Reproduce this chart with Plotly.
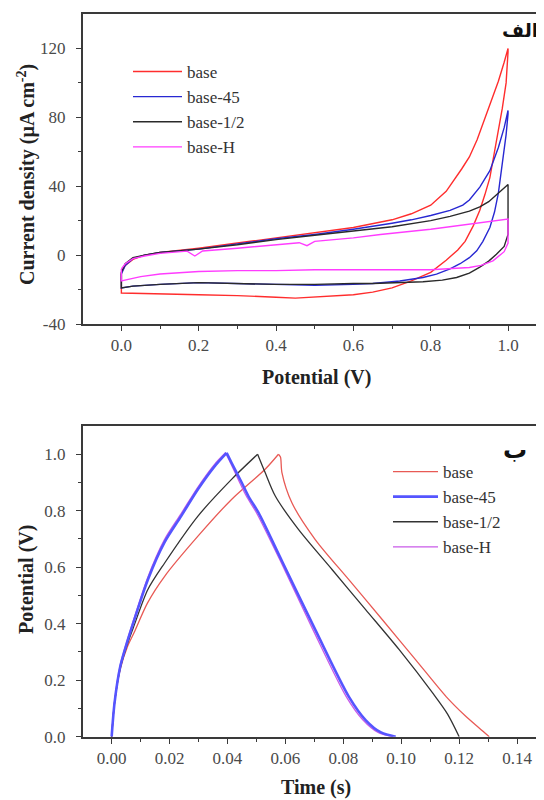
import plotly.graph_objects as go

# ---------------- Panel (الف): cyclic voltammetry ----------------
cv_names = ["base", "base-45", "base-1/2", "base-H"]

red_v_fwd = [0.0, 0.01, 0.03, 0.06, 0.1, 0.2, 0.3, 0.4, 0.5, 0.6, 0.7, 0.75, 0.8, 0.84, 0.88, 0.9, 0.92, 0.95, 0.975, 0.99, 1.0]
red_j_fwd = [-10, -6, -2.5, 0, 1.5, 4, 7, 10, 13, 16, 20.5, 24, 29, 37, 50, 57, 67, 85, 101, 112, 120]
red_v_rev = [1.0, 0.995, 0.985, 0.975, 0.965, 0.953, 0.94, 0.927, 0.91, 0.889, 0.87, 0.84, 0.8, 0.75, 0.7, 0.65, 0.6, 0.5, 0.45, 0.4, 0.3, 0.2, 0.1, 0.03, 0.0, 0.0]
red_j_rev = [118, 100, 85, 72, 60, 45, 35, 26, 17, 8, 3, -3, -10, -15, -19, -21.5, -23, -24.5, -25, -24.5, -23.5, -23, -22.5, -22.5, -22, -10]

blue_v_fwd = [0.0, 0.01, 0.03, 0.06, 0.1, 0.2, 0.3, 0.4, 0.5, 0.6, 0.7, 0.75, 0.8, 0.85, 0.883, 0.9, 0.927, 0.953, 0.975, 0.99, 1.0]
blue_j_fwd = [-11, -6, -2, 0, 1.5, 3.5, 6.5, 9.5, 12, 15, 18.5, 20.5, 23, 26, 29, 32, 39.5, 49, 62.5, 74, 84]
blue_v_rev = [1.0, 0.995, 0.987, 0.975, 0.965, 0.953, 0.935, 0.919, 0.9, 0.876, 0.85, 0.815, 0.78, 0.72, 0.65, 0.6, 0.5, 0.4, 0.3, 0.2, 0.1, 0.03, 0.0, 0.0]
blue_j_rev = [82, 70, 55, 36, 25, 16, 8, 2.5, -1.5, -5, -8, -11, -13, -15, -16.5, -17, -17.5, -17, -16.5, -16, -17, -18, -19, -11]

black_v_fwd = [0.0, 0.01, 0.03, 0.06, 0.1, 0.2, 0.3, 0.4, 0.5, 0.6, 0.7, 0.8, 0.85, 0.9, 0.927, 0.95, 0.975, 0.99, 1.0]
black_j_fwd = [-10, -5, -1.5, 0, 1.5, 3.5, 6, 9, 11.5, 14, 16.5, 20, 22.5, 25.5, 28, 31, 36, 39, 41]
black_v_rev = [1.0, 1.0, 0.99, 0.97, 0.95, 0.927, 0.9, 0.867, 0.83, 0.78, 0.72, 0.65, 0.6, 0.5, 0.4, 0.3, 0.2, 0.1, 0.03, 0.0, 0.0]
black_j_rev = [41, 12, 5, 0.5, -3.5, -7, -10.5, -13, -14.5, -15.5, -16, -16.5, -16.5, -17, -17, -16.5, -16, -17, -18, -19, -10]

mag_v_fwd = [0.0, 0.01, 0.03, 0.06, 0.1, 0.17, 0.19, 0.21, 0.3, 0.4, 0.46, 0.48, 0.5, 0.6, 0.67, 0.8, 0.9, 0.95, 1.0]
mag_j_fwd = [-8, -5, -2, -0.5, 1, 2.3, -0.5, 2.4, 4, 6, 7.2, 5.5, 8, 10, 12, 15, 18, 19.5, 21]
mag_v_rev = [1.0, 1.0, 0.99, 0.961, 0.93, 0.9, 0.85, 0.8, 0.7, 0.6, 0.5, 0.4, 0.3, 0.2, 0.1, 0.05, 0.02, 0.0, 0.0]
mag_j_rev = [21, 7, 2, -3.3, -6, -7.2, -8, -8.5, -8.5, -8.5, -8.5, -9, -9, -9.5, -11, -12.5, -14, -15, -8]

cv_x_tickvals = [0.0, 0.2, 0.4, 0.6, 0.8, 1.0]
cv_x_ticktext = ["0.0", "0.2", "0.4", "0.6", "0.8", "1.0"]
cv_y_tickvals = [-40, 0, 40, 80, 120]
cv_y_ticktext = ["-40", "0", "40", "80", "120"]

# ---------------- Panel (ب): charge / discharge ----------------
gcd_names = ["base", "base-45", "base-1/2", "base-H"]

red_t = [0, 0.001, 0.003, 0.0055, 0.0078, 0.0124, 0.0183, 0.0298, 0.0414, 0.053, 0.0576, 0.0583, 0.0588, 0.0622, 0.0703, 0.0819, 0.0935, 0.105, 0.1155, 0.122, 0.127, 0.1304]
red_p = [0, 0.12, 0.24, 0.32, 0.37, 0.474, 0.568, 0.71, 0.84, 0.947, 1.0, 0.99, 0.935, 0.829, 0.698, 0.556, 0.414, 0.272, 0.142, 0.075, 0.03, 0]

blue_t = [0, 0.001, 0.003, 0.0055, 0.0067, 0.0125, 0.0182, 0.024, 0.0298, 0.0356, 0.0397, 0.0414, 0.0449, 0.0472, 0.0507, 0.0588, 0.0703, 0.0819, 0.0877, 0.093, 0.0981]
blue_p = [0, 0.12, 0.25, 0.34, 0.379, 0.556, 0.687, 0.781, 0.876, 0.958, 1.005, 0.97, 0.9, 0.852, 0.793, 0.622, 0.379, 0.142, 0.059, 0.015, 0]

black_t = [0, 0.001, 0.003, 0.0055, 0.0078, 0.0125, 0.0183, 0.0298, 0.0414, 0.0504, 0.053, 0.0565, 0.0645, 0.0761, 0.0877, 0.0993, 0.1109, 0.116, 0.12]
black_p = [0, 0.12, 0.245, 0.33, 0.395, 0.521, 0.615, 0.781, 0.911, 1.0, 0.935, 0.852, 0.734, 0.592, 0.45, 0.308, 0.154, 0.08, 0]

mag_t = [0, 0.001, 0.003, 0.0055, 0.0067, 0.0125, 0.0182, 0.024, 0.0298, 0.0356, 0.0393, 0.041, 0.0442, 0.0465, 0.05, 0.058, 0.0695, 0.081, 0.0868, 0.092, 0.0972]
mag_p = [0, 0.125, 0.255, 0.345, 0.385, 0.565, 0.697, 0.79, 0.884, 0.965, 1.005, 0.97, 0.9, 0.852, 0.793, 0.628, 0.379, 0.142, 0.059, 0.015, 0]

gcd_x_tickvals = [0.0, 0.02, 0.04, 0.06, 0.08, 0.10, 0.12, 0.14]
gcd_x_ticktext = ["0.00", "0.02", "0.04", "0.06", "0.08", "0.10", "0.12", "0.14"]
gcd_y_tickvals = [0.0, 0.2, 0.4, 0.6, 0.8, 1.0]
gcd_y_ticktext = ["0.0", "0.2", "0.4", "0.6", "0.8", "1.0"]

# ---------------- figure ----------------
# the page body has an 8 px margin: figure pixels = screen pixels - 8
OFF = 8
W, H = 536, 792
SERIF = "Liberation Serif, Times New Roman, serif"
AXC = "#3a3a3a"


def px_x(sx):
    return (sx - OFF) / W


def px_y(sy):
    return 1 - (sy - OFF) / H


fig = go.Figure()

cv_colors = ["#ff2d2d", "#2828d2", "#2a2a2a", "#ff3cff"]
cv_data = [
    (red_v_fwd + red_v_rev, red_j_fwd + red_j_rev),
    (blue_v_fwd + blue_v_rev, blue_j_fwd + blue_j_rev),
    (black_v_fwd + black_v_rev, black_j_fwd + black_j_rev),
    (mag_v_fwd + mag_v_rev, mag_j_fwd + mag_j_rev),
]
for name, col, (xs, ys) in zip(cv_names, cv_colors, cv_data):
    fig.add_trace(go.Scatter(x=xs, y=ys, mode="lines", name=name,
                             line=dict(color=col, width=1.4),
                             xaxis="x", yaxis="y", legend="legend"))

gcd_colors = ["#e85a55", "#5555ff", "#333333", "#c95ae8"]
gcd_widths = [1.3, 2.6, 1.3, 1.3]
gcd_data = [(red_t, red_p), (blue_t, blue_p), (black_t, black_p), (mag_t, mag_p)]
gcd_order = [0, 3, 2, 1]  # draw magenta beneath blue
for i in gcd_order:
    ts, ps = gcd_data[i]
    k = ps.index(max(ps))
    # charge branch (shown in legend) and discharge branch, each smoothed
    fig.add_trace(go.Scatter(x=ts[:k + 1], y=ps[:k + 1], mode="lines",
                             name=gcd_names[i], legendrank=i + 1, legendgroup=gcd_names[i],
                             line=dict(color=gcd_colors[i], width=gcd_widths[i], shape="spline", smoothing=0.8),
                             xaxis="x2", yaxis="y2", legend="legend2"))
    fig.add_trace(go.Scatter(x=ts[k:], y=ps[k:], mode="lines",
                             name=gcd_names[i], showlegend=False, legendgroup=gcd_names[i],
                             line=dict(color=gcd_colors[i], width=gcd_widths[i], shape="spline", smoothing=0.8),
                             xaxis="x2", yaxis="y2", legend="legend2"))

xl = px_x(82.7)

common_axis = dict(showline=True, linecolor=AXC, linewidth=1.6, ticks="outside",
                   ticklen=5, tickwidth=1.2, tickcolor=AXC, showgrid=False,
                   zeroline=False, automargin=False,
                   tickfont=dict(family=SERIF, size=17, color="#4a4a4a"))

fig.update_layout(
    width=W, height=H,
    margin=dict(l=0, r=0, t=0, b=0),
    paper_bgcolor="white", plot_bgcolor="white",
    xaxis=dict(domain=[xl, 1.0], anchor="y", range=[-0.1, 1.093], mirror=True,
               tickmode="array", tickvals=cv_x_tickvals, ticktext=cv_x_ticktext,
               minor=dict(tickvals=[0.1, 0.3, 0.5, 0.7, 0.9], ticks="outside", ticklen=3, tickcolor=AXC),
               **common_axis),
    yaxis=dict(domain=[px_y(324), px_y(14)], anchor="x", range=[-40, 140], mirror=False,
               tickmode="array", tickvals=cv_y_tickvals, ticktext=cv_y_ticktext,
               ticklabelstandoff=7,
               minor=dict(tickvals=[-20, 20, 60, 100], ticks="outside", ticklen=3, tickcolor=AXC),
               **common_axis),
    xaxis2=dict(domain=[xl, 1.0], anchor="y2", range=[-0.01, 0.1493], mirror=True,
                tickmode="array", tickvals=gcd_x_tickvals, ticktext=gcd_x_ticktext,
                minor=dict(tickvals=[0.01, 0.03, 0.05, 0.07, 0.09, 0.11, 0.13], ticks="outside", ticklen=3, tickcolor=AXC),
                **common_axis),
    yaxis2=dict(domain=[px_y(736.7), px_y(426)], anchor="x2", range=[0, 1.1], mirror=False,
                tickmode="array", tickvals=gcd_y_tickvals, ticktext=gcd_y_ticktext,
                ticklabelstandoff=7,
                minor=dict(tickvals=[0.1, 0.3, 0.5, 0.7, 0.9], ticks="outside", ticklen=3, tickcolor=AXC),
                **common_axis),
    legend=dict(x=px_x(128), y=px_y(54), xanchor="left", yanchor="top", itemwidth=49,
                bgcolor="rgba(0,0,0,0)", borderwidth=0,
                font=dict(family=SERIF, size=17, color="#333333"), tracegroupgap=0),
    legend2=dict(x=px_x(388), y=px_y(454), xanchor="left", yanchor="top", itemwidth=45,
                 bgcolor="rgba(0,0,0,0)", borderwidth=0,
                 font=dict(family=SERIF, size=17, color="#333333"), tracegroupgap=0),
    showlegend=True,
)

ann_font = dict(family=SERIF, size=20, color="#222222")
fig.add_annotation(text="<b>Potential (V)</b>", x=px_x(316), y=px_y(378), xref="paper", yref="paper",
                   showarrow=False, font=ann_font, xanchor="center", yanchor="middle")
fig.add_annotation(text="<b>Current density (µA cm<sup>-2</sup>)</b>", x=px_x(26), y=px_y(175),
                   xref="paper", yref="paper", showarrow=False, font=ann_font,
                   textangle=-90, xanchor="center", yanchor="middle")
fig.add_annotation(text="<b>Time (s)</b>", x=px_x(316), y=px_y(787), xref="paper", yref="paper",
                   showarrow=False, font=ann_font, xanchor="center", yanchor="middle")
fig.add_annotation(text="<b>Potential (V)</b>", x=px_x(26), y=px_y(580), xref="paper", yref="paper",
                   showarrow=False, font=ann_font, textangle=-90, xanchor="center", yanchor="middle")
fig.add_annotation(text="<b>الف</b>", x=px_x(520), y=px_y(30), xref="paper", yref="paper",
                   showarrow=False, font=dict(family="DejaVu Sans", size=19, color="#111111"),
                   xanchor="center", yanchor="middle")
fig.add_annotation(text="<b>ب</b>", x=px_x(515), y=px_y(450), xref="paper", yref="paper",
                   showarrow=False, font=dict(family="DejaVu Sans", size=24, color="#111111"),
                   xanchor="center", yanchor="middle")

fig.write_html("out.html")
